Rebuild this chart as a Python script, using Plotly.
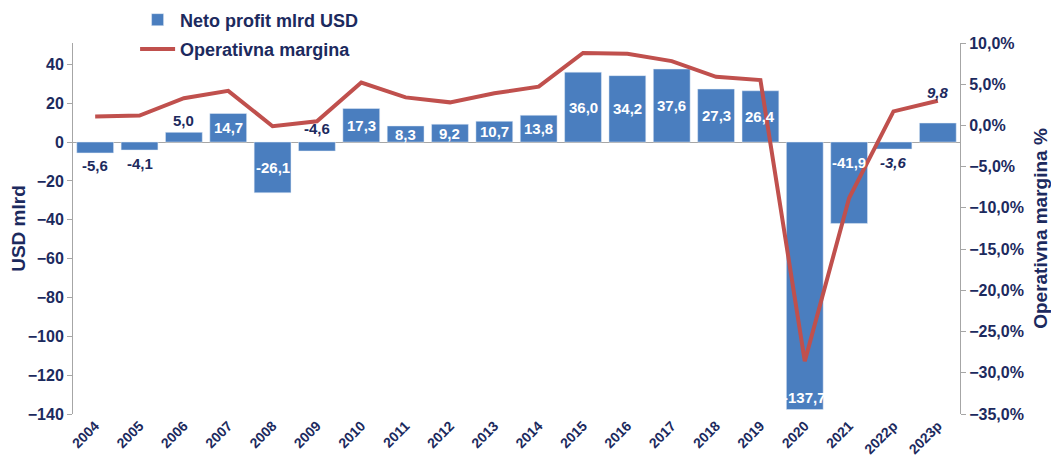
import plotly.graph_objects as go

godine = ['2004', '2005', '2006', '2007', '2008', '2009', '2010', '2011', '2012', '2013',
          '2014', '2015', '2016', '2017', '2018', '2019', '2020', '2021', '2022p', '2023p']
neto_profit = [-5.6, -4.1, 5.0, 14.7, -26.1, -4.6, 17.3, 8.3, 9.2, 10.7,
               13.8, 36.0, 34.2, 37.6, 27.3, 26.4, -137.7, -41.9, -3.6, 9.8]
operativna_margina = [1.1, 1.2, 3.3, 4.2, -0.1, 0.5, 5.2, 3.4, 2.8, 3.9,
                      4.7, 8.8, 8.7, 7.8, 5.9, 5.5, -28.6, -8.8, 1.7, 3.0]

PLAVA = '#4A7EBF'
CRVENA = '#C0504D'
TEKST = '#1C2A5E'
SIVA = '#A6A6A6'
FONT = 'Liberation Sans Narrow, Liberation Sans, Arial'

# posebna mjesta za oznake koje nisu u sredini stupca
posebno = {'2009': 'iznad', '2020': 'dno', '2021': 'vrh', '2023p': 'visoko'}

fig = go.Figure()

fig.add_trace(go.Bar(
    x=godine, y=neto_profit, name='Neto profit mlrd USD',
    marker_color=PLAVA, yaxis='y', legendgroup='a'
))
fig.add_trace(go.Scatter(
    x=godine, y=[m / 100 for m in operativna_margina], name='Operativna margina',
    mode='lines', line=dict(color=CRVENA, width=4), yaxis='y2', legendgroup='b'
))

for i, (g, v) in enumerate(zip(godine, neto_profit)):
    tekst = f'{v:.1f}'.replace('.', ',')
    italic = g.endswith('p')
    nacin = posebno.get(g)
    if nacin == 'iznad':
        y, pomak, boja = 0, 14, TEKST
    elif nacin == 'dno':
        y, pomak, boja = v, 12, 'white'
    elif nacin == 'vrh':
        y, pomak, boja = 0, -20, 'white'
    elif nacin == 'visoko':
        y, pomak, boja = v, 31, TEKST
    elif abs(v) < 6:
        y, pomak, boja = v, (12 if v > 0 else -13), TEKST
    else:
        y, pomak, boja = v / 2, 0, 'white'
    if italic:
        tekst = f'<i>{tekst}</i>'
    # na kategorijskoj osi annotation x = redni broj kategorije
    fig.add_annotation(x=i, y=y, xref='x', yref='y', yshift=pomak, text=f'<b>{tekst}</b>',
                       showarrow=False, font=dict(family=FONT, size=15, color=boja))

fig.update_layout(
    width=1059, height=465,
    margin=dict(l=65, r=107, t=35, b=59, autoexpand=False),
    plot_bgcolor='white', paper_bgcolor='white',
    separators=',.',
    font=dict(family=FONT, color=TEKST, size=15, weight='bold'),
    bargap=0.17,
    showlegend=True,
    legend=dict(x=0.07, y=1.112, xanchor='left', yanchor='top',
                font=dict(size=18, color=TEKST, weight='bold'), bgcolor='rgba(0,0,0,0)',
                traceorder='grouped', tracegroupgap=3, itemwidth=35),
    xaxis=dict(
        type='category', tickangle=-45, showline=False, ticks='', showgrid=False,
        range=[-0.5, len(godine) - 0.5], automargin=False,
        tickfont=dict(size=14, color=TEKST, weight='bold')
    ),
    yaxis=dict(
        title=dict(text='<b>USD mlrd</b>', font=dict(size=19, color=TEKST), standoff=6),
        range=[-140, 51], tickvals=list(range(-140, 41, 20)), automargin=False,
        showgrid=False, showline=True, linecolor=SIVA, linewidth=1,
        ticks='outside', tickcolor=SIVA, ticklen=5,
        zeroline=True, zerolinecolor=SIVA, zerolinewidth=1,
        tickfont=dict(size=16, color=TEKST, weight='bold')
    ),
    yaxis2=dict(
        title=dict(text='<b>Operativna margina %</b>', font=dict(size=19, color=TEKST), standoff=10),
        overlaying='y', side='right', range=[-0.35, 0.10], automargin=False,
        tickvals=[i / 100 for i in range(-35, 11, 5)], tickformat='.1%',
        showgrid=False, zeroline=False, showline=True, linecolor=SIVA, linewidth=1,
        ticks='outside', tickcolor=SIVA, ticklen=5,
        tickfont=dict(size=16, color=TEKST, weight='bold')
    ),
)

fig.write_html('out.html')
